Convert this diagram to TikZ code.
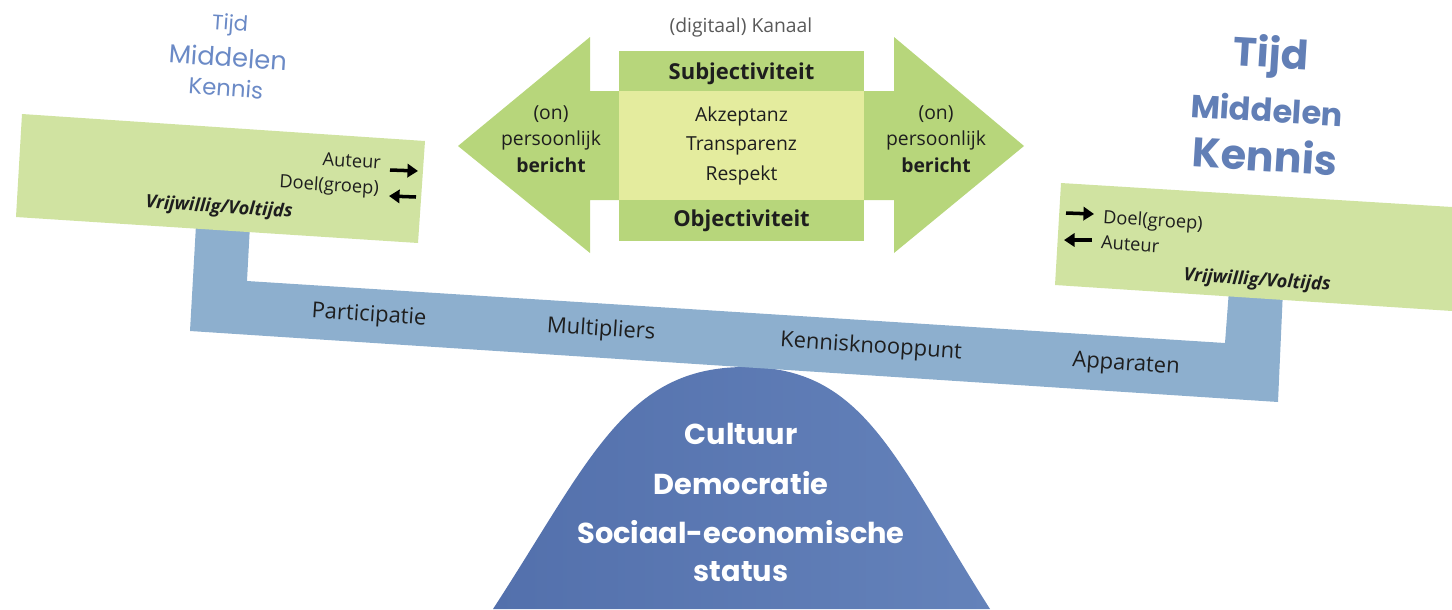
\documentclass[tikz,border=0pt]{standalone}
\usepackage{fontspec}
\setmainfont{Open Sans}
\newfontfamily\popfont{Poppins}
\usetikzlibrary{arrows.meta}
\definecolor{groen}{HTML}{B7D67B}
\definecolor{lichtgroen}{HTML}{E4EC9E}
\definecolor{boxgroen}{HTML}{D0E3A1}
\definecolor{balkblauw}{HTML}{8DAFCE}
\definecolor{bergdonker}{HTML}{5370AC}
\definecolor{berglicht}{HTML}{6482BA}
\definecolor{kopblauw}{HTML}{6B8AC6}
\definecolor{tekst}{HTML}{1E1E1E}
\tikzset{>=Stealth,every node/.style={font=\fontsize{11}{13}\selectfont,text=tekst},
  vlak/.style={fill=groen,minimum width=4.9cm,inner sep=0pt},
  balktxt/.style={font=\fontsize{12.5}{14}\selectfont,rotate=-3.7},
  boxtxt/.style={font=\fontsize{10.4}{12}\selectfont,rotate=-3.7},
  vrij/.style={font=\fontsize{10.4}{12}\selectfont\bfseries\itshape,rotate=-3.7},
  kopL/.style={text=kopblauw,rotate=-4},
  kopR/.style={text=kopblauw!92!black,rotate=-3.5},
  bergtxt/.style={text=white,align=center,font=\popfont\bfseries\fontsize{16.4}{22}\selectfont},
  pijltje/.style={line width=2pt,-{Triangle[length=6pt,width=7.5pt]}},
  bericht/.style={align=center,font=\fontsize{11}{15}\selectfont}}

\begin{document}
\begin{tikzpicture}[x=0.02cm,y=-0.02cm]
\useasboundingbox (0,0) rectangle (1452,609);
% berg
\path[left color=bergdonker,right color=berglicht] (493,609) .. controls (590,460) and (625,367) .. (745,367)
  .. controls (865,367) and (895,460) .. (990,609) -- cycle;
\node[bergtxt] (cult) at (741,434) {Cultuur};
\node[bergtxt] (demo) at (741,483) {Democratie};
\node[bergtxt] (soc) at (741,551) {Sociaal-economische\\status};
% balk
\fill[balkblauw] (196,225) -- (250,225) -- (247,281) -- (1225,343) -- (1229,290) -- (1283,290)
  -- (1278,402) -- (190,331) -- cycle;
\node[balktxt] (part) at (369,316) {Participatie};
\node[balktxt] (mult) at (601,330) {Multipliers};
\node[balktxt] (knoop) at (871,347) {Kennisknooppunt};
\node[balktxt] (app) at (1126,365) {Apparaten};
% linker paneel
\fill[boxgroen] (22,114) -- (425,141) -- (418,243) -- (16,217) -- cycle;
\node[boxtxt,anchor=east] (autL) at (387,163) {Auteur};
\node[boxtxt,anchor=east] (doelL) at (385,190) {Doel(groep)};
\node[vrij] (vrijL) at (219,208) {Vrijwillig/Voltijds};
\coordinate (a1) at (390,170); \coordinate (a2) at (418,171);
\coordinate (d1) at (416,197); \coordinate (d2) at (389,196);
\draw[pijltje] (a1) -- (a2);
\draw[pijltje] (d1) -- (d2);
% rechter paneel
\fill[boxgroen] (1061,183) -- (1452,207) -- (1452,311) -- (1055,285) -- cycle;
\node[boxtxt,anchor=west] (doelR) at (1097,218) {Doel(groep)};
\node[boxtxt,anchor=west] (autR) at (1095,242) {Auteur};
\node[vrij] (vrijR) at (1257,281) {Vrijwillig/Voltijds};
\coordinate (d3) at (1066,213); \coordinate (d4) at (1094,214);
\coordinate (a3) at (1092,240); \coordinate (a4) at (1064,240);
\draw[pijltje] (d3) -- (d4);
\draw[pijltje] (a3) -- (a4);
% koppen
\node[kopL,font=\popfont\fontsize{12}{14}\selectfont] (tijdL) at (230,25) {Tijd};
\node[kopL,font=\popfont\fontsize{14.7}{16}\selectfont] (midL) at (228,57) {Middelen};
\node[kopL,font=\popfont\fontsize{13}{16}\selectfont] (kenL) at (226,88) {Kennis};
\node[kopR,font=\popfont\bfseries\fontsize{23}{26}\selectfont] (tijdR) at (1271,57) {Tijd};
\node[kopR,font=\popfont\bfseries\fontsize{18.2}{22}\selectfont] (midR) at (1267,109) {Middelen};
\node[kopR,font=\popfont\bfseries\fontsize{23.5}{28}\selectfont] (kenR) at (1265,155) {Kennis};
% kanaal
\fill[groen] (458,146) -- (590,37) -- (590,91) -- (619,91) -- (619,200) -- (590,200) -- (590,253) -- cycle;
\fill[groen] (1024,146) -- (894,37) -- (894,91) -- (864,91) -- (864,200) -- (894,200) -- (894,253) -- cycle;
\node[text=black!65,font=\fontsize{11}{13}\selectfont] (kan) at (741,27) {(digitaal) Kanaal};
\node[vlak,minimum height=0.8cm,text depth=0pt,font=\fontsize{12.5}{14}\selectfont\bfseries] (subj) at (741.5,71) {Subjectiviteit};
\node[vlak,fill=lichtgroen,minimum height=2.18cm,align=center,font=\fontsize{11}{16.8}\selectfont] (mid) at (741.5,145.5) {Akzeptanz\\Transparenz\\Respekt};
\node[vlak,minimum height=0.82cm,font=\fontsize{12.5}{14}\selectfont\bfseries] (obj) at (741.5,220.5) {Objectiviteit};
\node[bericht] (berL) at (551,139) {(on)\\persoonlijk\\\textbf{bericht}};
\node[bericht] (berR) at (936,139) {(on)\\persoonlijk\\\textbf{bericht}};
\end{tikzpicture}
\end{document}
